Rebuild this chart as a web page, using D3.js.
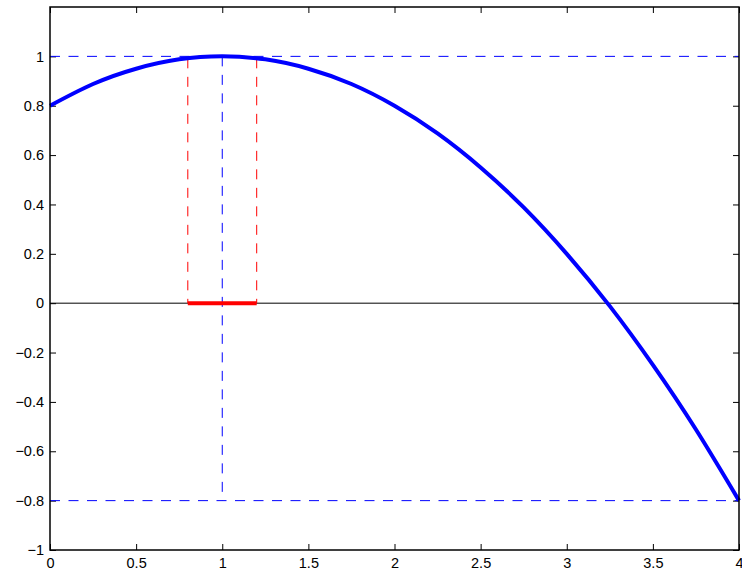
<!doctype html>
<html lang="en">
  <head>
    <meta charset="UTF-8" />
    <title>Parabola with interval</title>
    <script src="https://cdn.jsdelivr.net/npm/d3@7"></script>
    <style>
      body { margin: 0; background: #fff; }
      svg text { font-family: "Liberation Sans", Arial, sans-serif; font-size: 14.5px; fill: #000; }
    </style>
  </head>
  <body>
    <div id="chart"></div>
    <script>
      // curve samples
      const curveX = [0, 0.25, 0.5, 0.75, 1, 1.25, 1.5, 1.75, 2, 2.25, 2.5, 2.75, 3, 3.25, 3.5, 3.75, 4];
      const curveY = [0.8, 0.888, 0.95, 0.988, 1, 0.988, 0.95, 0.888, 0.8, 0.688, 0.55, 0.388, 0.2, -0.012, -0.25, -0.512, -0.8];

      // interval on the x axis and the guide levels
      const interval = [0.8, 1.2];
      const intervalTop = [0.992, 0.992];
      const peak = { x: 1, y: 1 };
      const lowLevel = -0.8;

      const xTicks = [0, 0.5, 1, 1.5, 2, 2.5, 3, 3.5, 4];
      const yTicks = [-1, -0.8, -0.6, -0.4, -0.2, 0, 0.2, 0.4, 0.6, 0.8, 1];

      const width = 742, height = 571;
      const marginLeft = 50, plotRight = 739, plotTop = 7, plotBottom = 550;
      const tickLen = 6;

      const x = d3.scaleLinear().domain([0, 4]).range([marginLeft, plotRight]);
      const y = d3.scaleLinear().domain([-1, 1.2]).range([plotBottom, plotTop]);

      const svg = d3.select("#chart").append("svg")
        .attr("width", width)
        .attr("height", height);

      const fmt = d => (d < 0 ? "\u2212" : "") + Math.abs(d);

      // axes (ticks point inward, box on)
      const xBottom = d3.axisBottom(x).tickValues(xTicks).tickSizeInner(-tickLen).tickSizeOuter(0).tickPadding(8).tickFormat(fmt);
      const xTop = d3.axisTop(x).tickValues(xTicks).tickSizeInner(-tickLen).tickSizeOuter(0).tickFormat("");
      const yLeft = d3.axisLeft(y).tickValues(yTicks).tickSizeInner(-tickLen).tickSizeOuter(0).tickPadding(6).tickFormat(fmt);
      const yRight = d3.axisRight(y).tickValues(yTicks).tickSizeInner(-tickLen).tickSizeOuter(0).tickFormat("");

      function styleAxis(g) {
        g.select(".domain").remove();
        g.attr("font-size", null).attr("font-family", null);
        g.selectAll("line").attr("stroke", "#000");
      }

      svg.append("g").attr("transform", `translate(0,${plotBottom})`).call(xBottom).call(styleAxis);
      svg.append("g").attr("transform", `translate(0,${plotTop})`).call(xTop).call(styleAxis);
      svg.append("g").attr("transform", `translate(${marginLeft},0)`).call(yLeft).call(styleAxis);
      svg.append("g").attr("transform", `translate(${plotRight},0)`).call(yRight).call(styleAxis);

      // zero line
      svg.append("line")
        .attr("x1", x(0)).attr("x2", x(4))
        .attr("y1", y(0)).attr("y2", y(0))
        .attr("stroke", "#000").attr("stroke-width", 1);

      const dash = "10 8.5";

      // blue dashed guides
      svg.append("line")
        .attr("x1", x(0)).attr("x2", x(4))
        .attr("y1", y(peak.y)).attr("y2", y(peak.y))
        .attr("stroke", "#0000ff").attr("stroke-width", 1).attr("stroke-dasharray", dash);
      svg.append("line")
        .attr("x1", x(0)).attr("x2", x(4))
        .attr("y1", y(lowLevel)).attr("y2", y(lowLevel))
        .attr("stroke", "#0000ff").attr("stroke-width", 1).attr("stroke-dasharray", dash);
      svg.append("line")
        .attr("x1", x(peak.x)).attr("x2", x(peak.x))
        .attr("y1", y(peak.y)).attr("y2", y(lowLevel))
        .attr("stroke", "#0000ff").attr("stroke-width", 1).attr("stroke-dasharray", dash);

      // red dashed verticals at interval ends
      svg.selectAll(".redv")
        .data(interval)
        .enter().append("line")
        .attr("class", "redv")
        .attr("x1", d => x(d)).attr("x2", d => x(d))
        .attr("y1", (d, i) => y(intervalTop[i])).attr("y2", y(0))
        .attr("stroke", "#ff0000").attr("stroke-width", 1).attr("stroke-dasharray", dash);

      // red interval segment
      svg.append("line")
        .attr("x1", x(interval[0])).attr("x2", x(interval[1]))
        .attr("y1", y(0)).attr("y2", y(0))
        .attr("stroke", "#ff0000").attr("stroke-width", 4);

      // the curve
      const pts = curveX.map((v, i) => [v, curveY[i]]);
      const line = d3.line().x(d => x(d[0])).y(d => y(d[1])).curve(d3.curveNatural);
      svg.append("path")
        .datum(pts)
        .attr("d", line)
        .attr("fill", "none")
        .attr("stroke", "#0000ff")
        .attr("stroke-width", 4);

      // box
      svg.append("rect")
        .attr("x", marginLeft).attr("y", plotTop)
        .attr("width", plotRight - marginLeft).attr("height", plotBottom - plotTop)
        .attr("fill", "none").attr("stroke", "#000").attr("stroke-width", 1.5);
    </script>
  </body>
</html>
